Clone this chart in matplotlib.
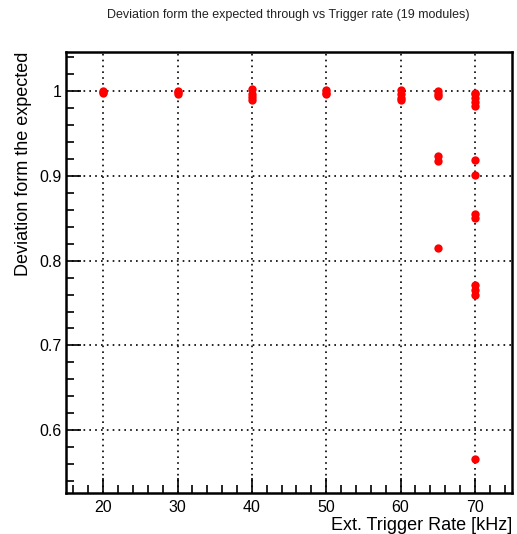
import matplotlib

matplotlib.use("Agg")
import matplotlib.pyplot as plt
from matplotlib.ticker import MultipleLocator

plt.rcParams["font.family"] = ["Liberation Sans", "DejaVu Sans"]

# trigger rate [kHz] and measured deviation from expected throughput
rate = [20, 20, 20,
        30, 30, 30,
        40, 40, 40, 40,
        50, 50, 50,
        60, 60, 60, 60,
        65, 65, 65, 65, 65, 65,
        70, 70, 70, 70, 70, 70, 70, 70, 70, 70, 70, 70, 70]
deviation = [1.000, 0.999, 0.998,
             1.000, 0.999, 0.997,
             1.002, 0.997, 0.993, 0.989,
             1.001, 0.998, 0.996,
             1.001, 0.996, 0.992, 0.989,
             1.000, 0.997, 0.994, 0.923, 0.918, 0.815,
             0.997, 0.992, 0.987, 0.982, 0.919, 0.901,
             0.855, 0.850, 0.771, 0.765, 0.759, 0.566, 0.998]

fig = plt.figure(figsize=(5.17, 5.34), dpi=100)
ax = fig.add_axes([66 / 517, 41 / 534, 446 / 517, 441 / 534])

ax.plot(rate, deviation, "o", color="red", markersize=6, markeredgewidth=0)

ax.set_xlim(15, 75)
ax.set_ylim(0.526, 1.046)
ax.xaxis.set_major_locator(MultipleLocator(10))
ax.xaxis.set_minor_locator(MultipleLocator(2))
ax.yaxis.set_major_locator(MultipleLocator(0.1))
ax.yaxis.set_minor_locator(MultipleLocator(0.02))
ax.set_yticks([0.6, 0.7, 0.8, 0.9, 1.0], ["0.6", "0.7", "0.8", "0.9", "1"])
ax.tick_params(which="both", direction="in", labelsize=11.5, width=1.2)
ax.tick_params(which="major", length=11)
ax.tick_params(which="minor", length=6)
ax.tick_params(axis="x", which="major", pad=5)
ax.tick_params(axis="y", which="major", pad=3)
ax.grid(True, which="major", color="black", linestyle=(0, (1, 2.5)), linewidth=1.2)
for s in ax.spines.values():
    s.set_linewidth(1.8)

ax.set_xlabel("Ext. Trigger Rate [kHz]", fontsize=13, ha="right")
ax.xaxis.set_label_coords(1.0, -0.054)
ax.set_ylabel("Deviation form the expected", fontsize=13, ha="right")
ax.yaxis.set_label_coords(-0.077, 1.0)
fig.text(0.557, 1 - 15 / 534, "Deviation form the expected through vs Trigger rate (19 modules)",
         ha="center", va="center", fontsize=9, color="#222222")

fig.savefig("out.png", dpi=100)
